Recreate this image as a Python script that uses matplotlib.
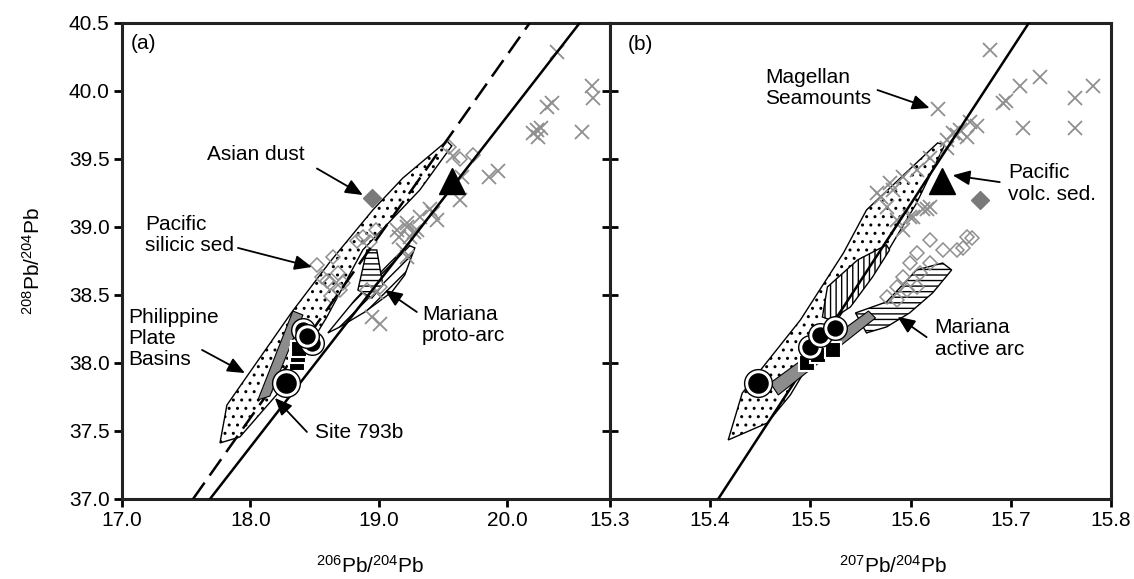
import matplotlib
matplotlib.use("Agg")
import matplotlib.pyplot as plt
from matplotlib.patches import Polygon

plt.rcParams['font.family'] = ['Liberation Sans', 'DejaVu Sans']
plt.rcParams['mathtext.fontset'] = 'custom'
plt.rcParams['mathtext.rm'] = 'Liberation Sans'
plt.rcParams['mathtext.it'] = 'Liberation Sans'
plt.rcParams['hatch.linewidth'] = 1.0
plt.rcParams['font.size'] = 15

# ---- panel (a): 206Pb/204Pb vs 208Pb/204Pb ----
a_solid_x = [17.685, 20.564]
a_solid_y = [37.0, 40.5]
a_dash_x = [17.553, 20.175]
a_dash_y = [37.0, 40.5]

a_stipple = [(17.763, 37.412), (17.817, 37.691), (18.323, 38.375), (18.619, 38.743),
             (18.953, 39.125), (19.187, 39.360), (19.529, 39.632), (19.568, 39.596),
             (19.319, 39.272), (18.875, 38.831), (18.595, 38.338), (18.284, 37.853),
             (17.918, 37.456)]
a_site_bar = [(18.058, 37.728), (18.152, 37.757), (18.409, 38.353), (18.331, 38.382)]
a_proto_diag = [(18.603, 38.221), (18.813, 38.463), (19.047, 38.699), (19.226, 38.868),
                (19.280, 38.846), (19.202, 38.647), (19.101, 38.522), (18.891, 38.375),
                (18.696, 38.265)]
a_proto_horiz = [(18.907, 38.831), (18.984, 38.831), (19.031, 38.574), (18.946, 38.478),
                 (18.837, 38.537)]

a_cross_x = [20.39, 20.66, 20.67, 20.35, 20.31, 20.23, 20.20, 20.26, 20.24, 20.58, 19.93, 19.86,
             19.58, 19.65, 19.63, 19.40, 19.32, 19.22, 19.27, 19.16, 19.22, 19.42, 19.14, 19.30,
             19.45, 19.24, 19.19, 19.22, 18.98, 18.95, 19.01]
a_cross_y = [40.29, 40.04, 39.95, 39.91, 39.88, 39.71, 39.69, 39.73, 39.66, 39.70, 39.41, 39.37,
             39.52, 39.37, 39.20, 39.13, 39.07, 39.00, 38.96, 38.93, 39.03, 39.10, 38.98, 38.98,
             39.05, 38.93, 38.83, 38.78, 38.52, 38.34, 38.29]
a_diam_x = [18.52, 18.56, 18.64, 18.62, 18.68, 18.83, 18.88, 18.93, 18.98, 18.72, 18.60, 18.70,
            18.63, 18.91, 19.01, 19.55, 19.63, 19.73]
a_diam_y = [38.72, 38.63, 38.78, 38.59, 38.66, 38.90, 38.93, 38.89, 38.98, 38.59, 38.60, 38.54,
            38.49, 38.54, 38.56, 39.59, 39.50, 39.53]
a_dust = (18.95, 39.21)
a_volc = (19.57, 39.34)
a_circ_x = [18.28, 18.41, 18.48, 18.44]
a_circ_y = [37.85, 38.24, 38.15, 38.20]
a_sq_x = [18.36, 18.37, 18.38]
a_sq_y = [38.00, 38.06, 38.10]

# ---- panel (b): 207Pb/204Pb vs 208Pb/204Pb ----
b_solid_x = [15.408, 15.718]
b_solid_y = [37.0, 40.5]

b_stipple = [(15.418, 37.434), (15.432, 37.779), (15.490, 38.316), (15.533, 38.809),
             (15.556, 39.125), (15.627, 39.618), (15.634, 39.603), (15.606, 39.176),
             (15.572, 38.757), (15.540, 38.463), (15.507, 38.096), (15.480, 37.765),
             (15.457, 37.559)]
b_site_bar = [(15.460, 37.853), (15.468, 37.765), (15.565, 38.331), (15.558, 38.382)]
b_proto_vert = [(15.512, 38.338), (15.517, 38.559), (15.547, 38.757), (15.576, 38.868),
                (15.579, 38.831), (15.562, 38.632), (15.540, 38.412), (15.520, 38.316)]
b_active_horiz = [(15.545, 38.368), (15.576, 38.449), (15.606, 38.684), (15.632, 38.735),
                  (15.641, 38.684), (15.622, 38.515), (15.599, 38.368), (15.576, 38.265),
                  (15.556, 38.221)]

b_cross_x = [15.679, 15.729, 15.709, 15.782, 15.764, 15.692, 15.695, 15.712, 15.764, 15.627,
             15.659, 15.666, 15.649, 15.642, 15.636, 15.656, 15.602, 15.616, 15.582, 15.570,
             15.566, 15.579, 15.592, 15.606, 15.619, 15.636, 15.646, 15.586, 15.599, 15.612,
             15.619, 15.592, 15.576]
b_cross_y = [40.30, 40.10, 40.04, 40.04, 39.95, 39.91, 39.93, 39.73, 39.73, 39.87,
             39.77, 39.74, 39.71, 39.69, 39.64, 39.66, 39.07, 39.13, 39.27, 39.22,
             39.25, 39.32, 39.37, 39.42, 39.51, 39.58, 39.68, 39.05, 39.07, 39.13,
             39.15, 38.98, 39.15]
b_diam_x = [15.619, 15.632, 15.646, 15.606, 15.599, 15.609, 15.619, 15.592, 15.586, 15.596,
            15.606, 15.576, 15.586, 15.661, 15.652, 15.656]
b_diam_y = [38.904, 38.831, 38.831, 38.809, 38.735, 38.662, 38.735, 38.632, 38.559, 38.537,
            38.559, 38.485, 38.463, 38.919, 38.846, 38.93]
b_dust = (15.669, 39.20)
b_volc = (15.631, 39.34)
b_circ_x = [15.448, 15.500, 15.510, 15.525]
b_circ_y = [37.853, 38.118, 38.206, 38.257]
b_sq_x = [15.497, 15.508, 15.523]
b_sq_y = [38.000, 38.059, 38.096]

# labels: (text, x, y) and arrows: (tail, head)
a_labels = [("(a)", 17.07, 40.35), ("Asian dust", 17.66, 39.53),
            ("Pacific\nsilicic sed", 17.18, 38.94), ("Philippine\nPlate\nBasins", 17.05, 38.18),
            ("Site 793b", 18.50, 37.49), ("Mariana\nproto-arc", 19.335, 38.28)]
a_arrows = [((18.518, 39.43), (18.875, 39.235)), ((17.903, 38.846), (18.479, 38.706)),
            ((17.623, 38.096), (17.957, 37.926)), ((18.44, 37.493), (18.19, 37.743)),
            ((19.296, 38.375), (19.047, 38.537))]
b_labels = [("(b)", 15.318, 40.34), ("Magellan\nSeamounts", 15.455, 40.02),
            ("Pacific\nvolc. sed.", 15.697, 39.32), ("Mariana\nactive arc", 15.624, 38.18)]
b_arrows = [((15.567, 40.007), (15.619, 39.875)), ((15.689, 39.33), (15.642, 39.38)),
            ((15.616, 38.19), (15.587, 38.34))]

GRAY = '#8f8f8f'


def draw_panel(ax, solid, dash, stipple, bar, hatched, crosses, diams, dust, volc,
               circs, sqs, labels, arrows):
    ax.add_patch(Polygon(stipple, closed=True, facecolor='white', edgecolor='black',
                         hatch='..', lw=1.0, zorder=1))
    for pts, h in hatched:
        ax.add_patch(Polygon(pts, closed=True, facecolor='white', edgecolor='black',
                             hatch=h, lw=1.0, zorder=1.5))
    ax.plot(crosses[0], crosses[1], 'x', color=GRAY, ms=9.5, mew=1.3, zorder=2)
    ax.plot(diams[0], diams[1], 'D', mfc='none', mec=GRAY, ms=7.5, mew=1.1, zorder=2)
    ax.plot(solid[0], solid[1], '-', color='black', lw=1.8, zorder=3)
    if dash is not None:
        ax.plot(dash[0], dash[1], '--', color='black', lw=1.8, dashes=(8, 3.5), zorder=3)
    ax.add_patch(Polygon(bar, closed=True, facecolor='#8c8c8c', edgecolor='black',
                         lw=0.8, zorder=4))
    ax.plot([dust[0]], [dust[1]], 'D', color='#7a7a7a', ms=9.5, zorder=5)
    ax.plot([volc[0]], [volc[1]], '^', color='black', ms=19, zorder=5)
    ax.plot(sqs[0], sqs[1], 's', mfc='black', mec='white', ms=11, mew=1.5, zorder=5)
    for i in range(len(circs[0])):
        s = 16 if i == 0 else 13
        ax.plot([circs[0][i]], [circs[1][i]], 'o', mfc='white', mec='black',
                ms=s + 4, mew=1.0, zorder=6)
        ax.plot([circs[0][i]], [circs[1][i]], 'o', mfc='black', mec='white',
                ms=s, mew=1.2, zorder=6)
    for txt, x, y in labels:
        ax.text(x, y, txt, ha='left', va='center', fontsize=15, linespacing=1.15, zorder=7)
    for tail, head in arrows:
        ax.annotate('', xy=head, xytext=tail,
                    arrowprops=dict(arrowstyle='-|>,head_length=0.7,head_width=0.3',
                                    color='black', lw=1.3, shrinkA=0, shrinkB=0),
                    zorder=7)


fig = plt.figure(figsize=(11.34, 5.79), dpi=100)
axa = fig.add_axes([0.1076, 0.1382, 0.4303, 0.8221])
axb = fig.add_axes([0.5379, 0.1382, 0.4418, 0.8221])

draw_panel(axa, (a_solid_x, a_solid_y), (a_dash_x, a_dash_y), a_stipple, a_site_bar,
           [(a_proto_diag, '///'), (a_proto_horiz, '---')],
           (a_cross_x, a_cross_y), (a_diam_x, a_diam_y), a_dust, a_volc,
           (a_circ_x, a_circ_y), (a_sq_x, a_sq_y), a_labels, a_arrows)
draw_panel(axb, (b_solid_x, b_solid_y), None, b_stipple, b_site_bar,
           [(b_proto_vert, '|||'), (b_active_horiz, '---')],
           (b_cross_x, b_cross_y), (b_diam_x, b_diam_y), b_dust, b_volc,
           (b_circ_x, b_circ_y), (b_sq_x, b_sq_y), b_labels, b_arrows)

a_xticks = [17.0, 18.0, 19.0, 20.0]
b_xticks = [15.3, 15.4, 15.5, 15.6, 15.7, 15.8]
yticks = [37.0, 37.5, 38.0, 38.5, 39.0, 39.5, 40.0, 40.5]

axa.set_xlim(17.0, 20.8)
axb.set_xlim(15.3, 15.8)
for ax in (axa, axb):
    ax.set_ylim(37.0, 40.5)
    for sp in ax.spines.values():
        sp.set_linewidth(2.2)
        sp.set_color('#222222')

axa.set_xticks(a_xticks)
axa.set_xticklabels([f"{v:.1f}" for v in a_xticks])
axa.set_yticks(yticks)
axa.set_yticklabels([f"{v:.1f}" for v in yticks])
axa.tick_params(direction='out', length=6, width=2, labelsize=15, pad=3)

axb.set_xticks(b_xticks)
axb.set_xticklabels([f"{v:.1f}" for v in b_xticks])
axb.set_yticks(yticks[1:-1])
axb.set_yticklabels([])
axb.tick_params(axis='x', direction='out', length=6, width=2, labelsize=15, pad=3)
axb.tick_params(axis='y', direction='inout', length=12, width=2)

axa.set_xlabel(r'$^{206}$Pb/$^{204}$Pb', fontsize=15)
axb.set_xlabel(r'$^{207}$Pb/$^{204}$Pb', fontsize=15)
axa.xaxis.set_label_coords(0.508, -0.118)
axb.xaxis.set_label_coords(0.565, -0.118)
axa.set_ylabel(r'$^{208}$Pb/$^{204}$Pb', fontsize=15, labelpad=18)

fig.savefig("out.png", dpi=100)
